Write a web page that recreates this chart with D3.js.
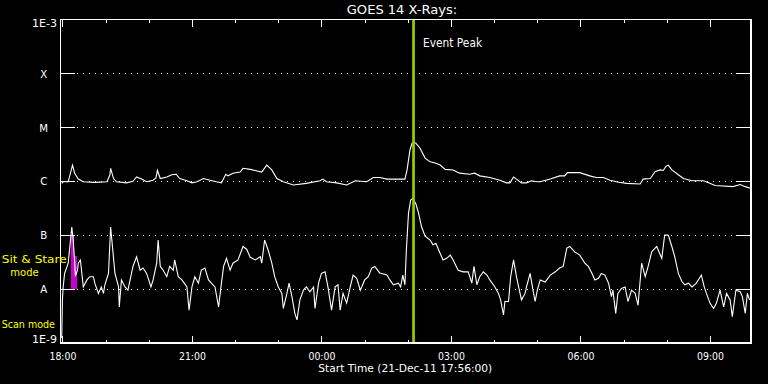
<!DOCTYPE html>
<html>
<head>
<meta charset="utf-8">
<script src="https://cdn.jsdelivr.net/npm/d3@7"></script>
<style>
  html, body { margin: 0; padding: 0; background: #000; }
  svg { display: block; }
  text { font-family: "DejaVu Sans", sans-serif; fill: #fff; }
</style>
</head>
<body>
<svg id="chart" width="768" height="384"></svg>
<script>
// ---------------- DATA ----------------
// Times are minutes after 21-Dec-2011 18:00 UT; flux values as log10(W/m^2)
const longTimes = [-1,1,8,14,17,22,29,45,62,66,67,71,75,89,98,103,110,117,126,130,132,136,145,152,158,163,173,180,187,196,205,214,221,227,230,237,247,251,261,277,284,291,298,307,321,339,358,362,367,381,395,407,423,432,441,451,465,476,479,483,486,491,497,504,511,518,525,532,543,552,566,573,580,594,608,617,622,627,631,638,645,652,659,664,678,691,698,702,719,733,742,752,761,773,784,803,807,817,824,831,835,839,842,847,856,863,875,891,898,907,932,942,949,956];
const longLogFlux = [-6.04,-6.01,-6.01,-5.70,-5.85,-5.96,-6.01,-6.02,-6.01,-5.88,-5.76,-5.95,-6.01,-6.03,-6.00,-5.92,-5.96,-6.01,-5.98,-5.94,-5.80,-5.95,-5.92,-5.88,-5.87,-5.95,-5.99,-6.03,-6.01,-5.95,-5.98,-6.01,-6.03,-5.87,-5.90,-5.85,-5.83,-5.76,-5.78,-5.83,-5.70,-5.79,-5.95,-6.01,-6.07,-6.04,-5.99,-5.96,-6.01,-6.03,-6.07,-5.99,-6.01,-5.93,-5.93,-5.96,-5.96,-5.96,-5.79,-5.42,-5.29,-5.29,-5.39,-5.57,-5.64,-5.66,-5.70,-5.78,-5.79,-5.85,-5.87,-5.85,-5.90,-5.93,-5.98,-6.03,-6.03,-5.92,-5.96,-6.03,-6.03,-5.99,-6.01,-6.01,-5.96,-5.90,-5.90,-5.84,-5.84,-5.90,-5.93,-5.93,-5.98,-6.02,-6.04,-6.05,-5.96,-5.95,-5.82,-5.79,-5.80,-5.72,-5.70,-5.79,-5.88,-5.95,-5.99,-5.99,-6.03,-6.08,-6.10,-6.06,-6.10,-6.13];

const shortTimes = [-1,0,1,3,8,13,15,17,18,21,22,25,27,29,34,38,43,45,50,54,57,59,64,67,70,73,78,79,82,87,91,96,98,103,108,112,117,123,126,131,133,136,140,145,149,154,156,161,166,173,176,180,184,189,193,198,203,207,212,217,221,224,228,233,237,244,251,256,261,268,275,277,281,286,291,295,300,305,307,312,315,319,323,326,330,335,339,344,349,351,356,360,365,369,374,379,383,386,390,395,400,404,409,414,416,420,425,430,434,441,451,455,460,467,470,473,476,478,481,484,487,491,495,499,504,511,515,519,525,529,534,539,543,550,557,564,569,572,576,580,585,590,594,601,606,609,613,615,620,623,627,631,635,638,643,645,650,654,657,660,664,671,678,685,691,696,701,705,712,719,726,731,736,740,745,749,754,759,763,765,769,772,777,782,786,791,796,800,805,810,814,819,826,833,837,842,847,851,856,861,865,870,875,881,888,892,895,900,905,909,914,919,923,928,931,936,942,945,949,952,955];
const shortLogFlux = [-8.91,-8.20,-7.96,-7.71,-7.52,-6.85,-7.09,-7.50,-7.76,-7.65,-7.52,-7.46,-7.71,-7.96,-7.83,-7.77,-7.77,-7.89,-8.08,-7.96,-8.08,-7.92,-7.71,-6.85,-7.28,-7.71,-7.96,-8.33,-7.83,-7.96,-8.02,-7.71,-7.58,-7.40,-7.65,-7.61,-7.71,-7.96,-7.83,-7.52,-7.09,-7.58,-7.65,-7.77,-7.58,-7.65,-7.46,-7.77,-7.83,-7.96,-8.39,-7.96,-7.77,-7.89,-7.65,-7.61,-7.83,-7.89,-7.96,-8.33,-7.89,-7.58,-7.43,-7.65,-7.52,-7.46,-7.21,-7.26,-7.41,-7.46,-7.40,-7.52,-7.09,-7.28,-7.52,-7.77,-7.96,-8.08,-8.36,-8.08,-7.89,-8.14,-8.45,-8.57,-8.20,-8.02,-7.96,-8.05,-7.96,-8.36,-7.89,-7.71,-7.68,-7.96,-8.39,-7.96,-7.92,-8.39,-8.08,-8.26,-7.96,-7.74,-7.80,-8.02,-7.96,-7.83,-7.77,-7.61,-7.58,-7.70,-7.74,-7.83,-7.92,-7.89,-7.96,-7.74,-7.92,-7.28,-6.59,-6.35,-6.32,-6.41,-6.59,-6.84,-7.02,-7.09,-7.18,-7.15,-7.34,-7.46,-7.43,-7.37,-7.46,-7.65,-7.68,-7.68,-7.89,-7.58,-7.92,-7.77,-7.68,-7.74,-7.83,-7.96,-8.08,-8.20,-8.48,-8.23,-8.23,-7.77,-7.46,-7.77,-8.02,-8.20,-8.08,-7.96,-7.71,-8.02,-8.23,-8.02,-7.83,-7.87,-7.74,-7.68,-7.61,-7.58,-7.24,-7.21,-7.31,-7.37,-7.52,-7.58,-7.71,-7.83,-7.80,-7.71,-7.74,-7.89,-8.14,-8.02,-8.45,-8.08,-7.99,-7.96,-8.23,-8.02,-8.08,-8.30,-7.52,-7.77,-7.58,-7.31,-7.21,-7.43,-7.00,-7.00,-7.21,-7.40,-7.71,-7.86,-7.92,-7.89,-7.96,-7.89,-7.74,-7.96,-8.08,-8.26,-8.36,-8.26,-8.02,-8.33,-8.08,-8.20,-8.51,-8.02,-8.05,-8.14,-8.45,-8.08,-8.20];

// Sit & Stare window (minutes after 18:00) with top flux (log10)
const sitStareStart = [12, 16];
const sitStareEnd = [16, 20];
const sitStareTopLog = [-7.00, -7.39];
const sitStareBottomLog = -8.0;

const eventPeakMinute = 488;   // 02:08 UT

const yTickValues = [1e-3, 1e-4, 1e-5, 1e-6, 1e-7, 1e-8, 1e-9];
const yTickLabels = ["1E-3", "X", "M", "C", "B", "A", "1E-9"];
const gridValues = [1e-4, 1e-5, 1e-6, 1e-7, 1e-8];

const titleText = "GOES 14 X-Rays:";
const xAxisTitle = "Start Time (21-Dec-11 17:56:00)";
const domainStartMinute = -2;   // 17:58
const domainEndMinute = 957;    // 09:57

// ---------------- CHART ----------------
const base = Date.UTC(2011, 11, 21, 18, 0, 0);
const toDate = m => new Date(base + m * 60000);

const L = 61, R = 751, T = 19.5, B = 343;
const svg = d3.select("#chart");
svg.append("rect").attr("width", 768).attr("height", 384).attr("fill", "#000");

const x = d3.scaleUtc().domain([toDate(domainStartMinute), toDate(domainEndMinute)]).range([L, R]);
const y = d3.scaleLog().domain([1e-9, 1e-3]).range([B, T]);

const crisp = v => Math.round(v) + 0.5;

// Sit & stare fill
svg.append("g").selectAll("rect").data(sitStareStart.map((s, i) => ({s, e: sitStareEnd[i], top: Math.pow(10, sitStareTopLog[i])})))
  .join("rect")
  .attr("x", d => x(toDate(d.s)))
  .attr("width", d => x(toDate(d.e)) - x(toDate(d.s)))
  .attr("y", d => y(d.top))
  .attr("height", d => y(Math.pow(10, sitStareBottomLog)) - y(d.top))
  .attr("fill", "#cc00cc")
  .attr("shape-rendering", "crispEdges");

// Grid dotted lines
const grid = svg.append("g");
gridValues.forEach(v => {
  grid.append("line")
    .attr("x1", 77).attr("x2", 736)
    .attr("y1", crisp(y(v))).attr("y2", crisp(y(v)))
    .attr("stroke", "#fff").attr("stroke-width", 1)
    .attr("stroke-dasharray", "1,5")
    .attr("shape-rendering", "crispEdges");
  grid.append("line").attr("x1", L).attr("x2", L + 14)
    .attr("y1", crisp(y(v))).attr("y2", crisp(y(v)))
    .attr("stroke", "#fff").attr("shape-rendering", "crispEdges");
  grid.append("line").attr("x1", R - 15).attr("x2", R)
    .attr("y1", crisp(y(v))).attr("y2", crisp(y(v)))
    .attr("stroke", "#fff").attr("shape-rendering", "crispEdges");
});

// Data lines
const line = d3.line().x(d => x(toDate(d.t))).y(d => y(Math.pow(10, d.v)));
const longData = longTimes.map((t, i) => ({t, v: longLogFlux[i]}));
const shortData = shortTimes.map((t, i) => ({t, v: shortLogFlux[i]}));
svg.append("path").datum(longData).attr("d", line)
  .attr("fill", "none").attr("stroke", "#fff").attr("stroke-width", 1.1);
svg.append("path").datum(shortData).attr("d", line)
  .attr("fill", "none").attr("stroke", "#fff").attr("stroke-width", 1.1);

// Event peak line
const ex = x(toDate(eventPeakMinute));
svg.append("line").attr("x1", ex).attr("x2", ex).attr("y1", T).attr("y2", B)
  .attr("stroke", "#99cc00").attr("stroke-width", 2.7);
svg.append("text").attr("x", ex + 9.5).attr("y", 46.7)
  .attr("font-size", 12).attr("textLength", 59).attr("lengthAdjust", "spacingAndGlyphs")
  .text("Event Peak");

// Frame
svg.append("rect").attr("x", 60.5).attr("y", 19.5).attr("width", R - 60.5).attr("height", B - 19.5)
  .attr("fill", "none").attr("stroke", "#fff").attr("stroke-width", 1.2).attr("shape-rendering", "crispEdges");

// X ticks
const majors = d3.utcHour.every(3).range(toDate(domainStartMinute), toDate(domainEndMinute));
const minors = d3.utcHour.every(1).range(toDate(domainStartMinute), toDate(domainEndMinute));
const tg = svg.append("g").attr("stroke", "#fff").attr("shape-rendering", "crispEdges");
minors.forEach(d => {
  const isMajor = d.getUTCHours() % 3 === 0;
  const len = isMajor ? 7 : 3.5;
  const xx = crisp(x(d));
  tg.append("line").attr("x1", xx).attr("x2", xx).attr("y1", B).attr("y2", B - len);
  tg.append("line").attr("x1", xx).attr("x2", xx).attr("y1", T).attr("y2", T + len);
});
const fmt = d3.utcFormat("%H:%M");
svg.append("g").selectAll("text").data(majors).join("text")
  .attr("x", d => x(d) + 0.5).attr("y", 359.5)
  .attr("text-anchor", "middle").attr("font-size", 9.6)
  .attr("textLength", 27).attr("lengthAdjust", "spacingAndGlyphs")
  .text(d => fmt(d));

// Y labels
svg.append("g").selectAll("text").data(yTickValues).join("text")
  .attr("x", (d, i) => (i === 0 || i === yTickValues.length - 1) ? 57 : 43.7)
  .attr("y", (d, i) => i === 0 ? 26.8 : (i === yTickValues.length - 1 ? 343.2 : y(d) + 4.2))
  .attr("text-anchor", (d, i) => (i === 0 || i === yTickValues.length - 1) ? "end" : "middle")
  .attr("font-size", 10.2)
  .text((d, i) => yTickLabels[i])
  .each(function(d, i) {
    if (i === 0 || i === yTickValues.length - 1) d3.select(this).attr("textLength", 25).attr("lengthAdjust", "spacingAndGlyphs");
  });

// Titles
svg.append("text").attr("x", 402).attr("y", 14.3).attr("text-anchor", "middle")
  .attr("font-size", 13).attr("textLength", 110.5).attr("lengthAdjust", "spacingAndGlyphs")
  .text(titleText);
svg.append("text").attr("x", 405.3).attr("y", 372.3).attr("text-anchor", "middle")
  .attr("font-size", 11).attr("textLength", 174).attr("lengthAdjust", "spacingAndGlyphs")
  .text(xAxisTitle);

// Mode labels
const yel = "#ffff00";
svg.append("text").attr("x", 1.7).attr("y", 262.8).attr("font-size", 10.5).style("fill", yel)
  .attr("textLength", 65).attr("lengthAdjust", "spacingAndGlyphs").text("Sit & Stare");
svg.append("text").attr("x", 24.5).attr("y", 275.5).attr("font-size", 10).style("fill", yel)
  .attr("text-anchor", "middle").attr("font-family", "DejaVu Sans Condensed, DejaVu Sans, sans-serif")
  .text("mode");
svg.append("text").attr("x", 1.7).attr("y", 327.7).attr("font-size", 10.5).style("fill", yel)
  .attr("textLength", 53.3).attr("lengthAdjust", "spacingAndGlyphs").text("Scan mode");
</script>
</body>
</html>
